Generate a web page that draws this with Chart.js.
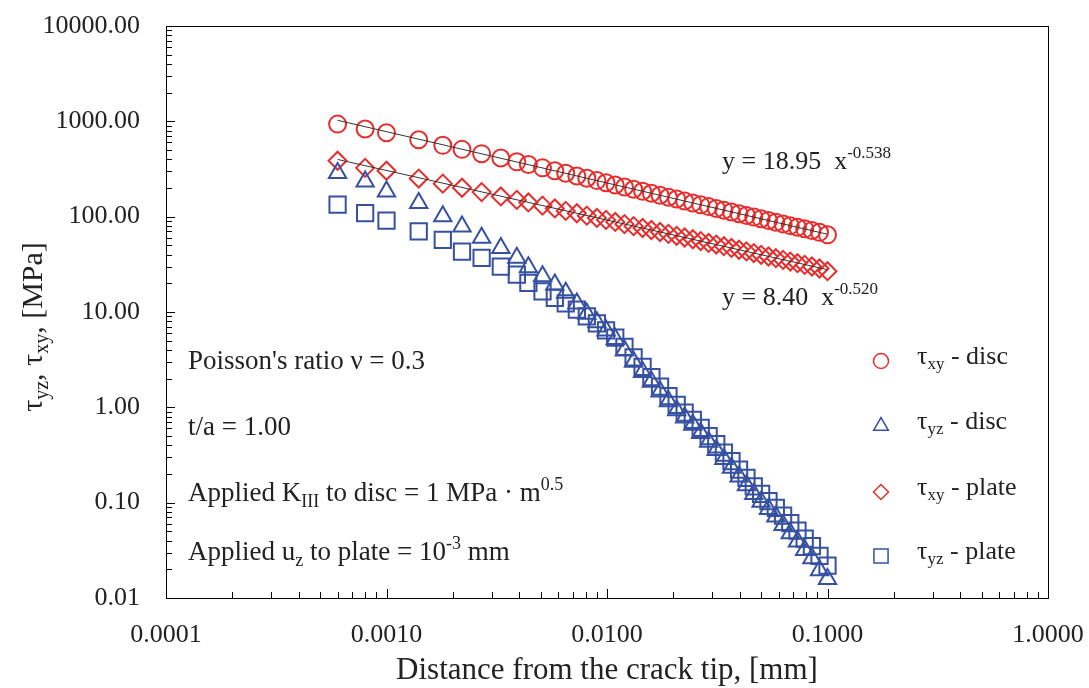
<!DOCTYPE html>
<html>
<head>
<meta charset="utf-8">
<script src="https://cdn.jsdelivr.net/npm/chart.js@4/dist/chart.umd.min.js"></script>
<style>
    html, body { margin: 0; padding: 0; background: #fff; }
</style>
</head>
<body>
<canvas id="grafico" width="1089" height="688"></canvas>
<script>
// distance from the crack tip [mm]
const distancias = [0.0006, 0.0008, 0.0010, 0.0014, 0.0018, 0.0022, 0.0027, 0.0033, 0.0039, 0.0044,
    0.0051, 0.0058, 0.0065, 0.0073, 0.0081, 0.0090, 0.0099, 0.0109, 0.0120, 0.0132,
    0.0145, 0.0159, 0.0174, 0.0190, 0.0207, 0.0225, 0.0245, 0.0266, 0.0289, 0.0313,
    0.0339, 0.0367, 0.0397, 0.0429, 0.0463, 0.0500, 0.0540, 0.0583, 0.0629, 0.0678,
    0.0731, 0.0788, 0.0850, 0.0920, 0.1000];

// stresses [MPa]
const txyDisc = [935, 830, 760, 640, 560, 508, 458, 412, 376, 352,
    325, 303, 285, 267, 253, 239, 227, 215, 205, 194,
    185, 176, 168, 160, 153, 146, 139, 133, 127.5, 122,
    117, 112, 107.5, 103, 99, 95, 91, 87.5, 84, 80.5,
    77.5, 74.5, 71.5, 68.5, 64.5];
const tyzDisc = [287, 234, 184, 139, 101, 79, 60, 47, 37, 29.5,
    23.7, 19.4, 15.9, 12.3, 9.6, 7.8, 6.4, 5.2, 3.95, 3.0,
    2.35, 1.86, 1.47, 1.16, 0.93, 0.78, 0.655, 0.537, 0.435, 0.356,
    0.287, 0.232, 0.188, 0.152, 0.123, 0.1025, 0.0857, 0.0716, 0.0583, 0.0478,
    0.0391, 0.0319, 0.0261, 0.0195, 0.0158];
const txyPlate = [386, 325, 303, 251, 222, 201, 181, 163, 150, 141,
    130.5, 122, 115, 108.5, 102.5, 97, 92.5, 88, 83.5, 79.5,
    76, 72.5, 69, 66, 63, 60.5, 58, 55.5, 53, 51,
    49, 47, 45, 43.2, 41.5, 39.8, 38.2, 36.7, 35.2, 33.8,
    32.5, 31.2, 30, 28.6, 26.8];
const tyzPlate = [134, 109, 91, 70, 57, 43, 37, 30, 24.7, 20.2,
    16.5, 14.1, 12.3, 10.6, 9.0, 7.6, 6.4, 5.4, 4.3, 3.35,
    2.65, 2.08, 1.65, 1.31, 1.06, 0.88, 0.74, 0.61, 0.50, 0.41,
    0.335, 0.272, 0.222, 0.182, 0.148, 0.124, 0.104, 0.088, 0.073, 0.061,
    0.051, 0.042, 0.035, 0.0277, 0.0218];

// power fits, end points of the trend lines
const ajusteX = [0.0006, 0.1];
const ajusteDisc = [1025, 65.4];   // y = 18.95 x^-0.538
const ajustePlate = [398, 27.8];   // y = 8.40 x^-0.520

const xTicks = [0.0001, 0.001, 0.01, 0.1, 1];
const yTicks = [0.01, 0.1, 1, 10, 100, 1000, 10000];

const ROJO = 'rgb(232, 46, 45)';
const AZUL = 'rgb(54, 80, 162)';
const FUENTE = "'Liberation Serif', 'Times New Roman', serif";
const TEXTO = '#222';

function toPoints(xs, ys) {
    return xs.map((x, i) => ({x: x, y: ys[i]}));
}

function markers(label, values, color, style, radius) {
    return {
        label: label,
        data: toPoints(distancias, values),
        showLine: false,
        pointStyle: style,
        pointRadius: radius,
        pointHoverRadius: radius,
        pointBorderWidth: 2,
        pointBorderColor: color,
        pointBackgroundColor: 'rgba(0,0,0,0)',
        order: 1
    }
}

function trend(values) {
    return {
        label: '',
        type: 'line',
        data: toPoints(ajusteX, values),
        borderColor: '#333',
        borderWidth: 1,
        pointRadius: 0,
        fill: false,
        order: 0
    }
}

// text with sub- and superscripts: parts = [[text, '' | 'sub' | 'sup'], ...]
function drawRich(ctx, x, y, parts, size, align) {
    const fontOf = m => (m ? Math.round(size * 0.66) : size) + 'px ' + FUENTE;
    const widths = parts.map(([t, m]) => {
        ctx.font = fontOf(m);
        return ctx.measureText(t).width;
    });
    const total = widths.reduce((a, b) => a + b, 0);
    let cx = align === 'center' ? x - total / 2 : x;
    ctx.textAlign = 'left';
    ctx.textBaseline = 'middle';
    parts.forEach(([t, m], i) => {
        ctx.font = fontOf(m);
        let dy = 0;
        if (m === 'sub') dy = size * 0.3;
        if (m === 'sup') dy = -size * 0.32;
        ctx.fillText(t, cx, y + dy);
        cx += widths[i];
    });
}

const extras = {
    id: 'extras',
    afterDraw(chart) {
        const {ctx, chartArea: a, scales: {x, y}} = chart;
        ctx.save();

        // frame + inward ticks
        ctx.strokeStyle = '#000';
        ctx.lineWidth = 1;
        ctx.strokeRect(a.left + 0.5, a.top + 0.5, a.right - a.left, a.bottom - a.top);
        ctx.beginPath();
        xTicks.slice(0, -1).forEach(d => {
            for (let m = 1; m <= 10; m++) {
                const px = Math.round(x.getPixelForValue(d * m)) + 0.5;
                const len = (m === 1 || m === 10) ? 9 : 6;
                ctx.moveTo(px, a.bottom);
                ctx.lineTo(px, a.bottom - len);
            }
        });
        yTicks.slice(0, -1).forEach(d => {
            for (let m = 1; m <= 10; m++) {
                const py = Math.round(y.getPixelForValue(d * m)) + 0.5;
                const len = (m === 1 || m === 10) ? 9 : 6;
                ctx.moveTo(a.left, py);
                ctx.lineTo(a.left + len, py);
            }
        });
        ctx.stroke();

        ctx.fillStyle = TEXTO;

        // y axis title
        ctx.save();
        ctx.translate(34, 327);
        ctx.rotate(-Math.PI / 2);
        drawRich(ctx, 0, 0, [['τ', ''], ['yz', 'sub'], [', ', ''], ['τ', ''], ['xy', 'sub'], [', [MPa]', '']], 30, 'center');
        ctx.restore();

        // fit equations
        drawRich(ctx, 722, 162, [['y = 18.95  x', ''], ['-0.538', 'sup']], 26);
        drawRich(ctx, 722, 298, [['y = 8.40  x', ''], ['-0.520', 'sup']], 26);

        // notes
        drawRich(ctx, 188, 362, [["Poisson's ratio ν = 0.3", '']], 27);
        drawRich(ctx, 188, 428, [['t/a = 1.00', '']], 27);
        drawRich(ctx, 188, 494, [['Applied K', ''], ['III', 'sub'], [' to disc = 1 MPa · m', ''], ['0.5', 'sup']], 27);
        drawRich(ctx, 188, 553, [['Applied u', ''], ['z', 'sub'], [' to plate = 10', ''], ['-3', 'sup'], [' mm', '']], 27);

        // legend
        const items = [
            {style: 'circle', color: ROJO, r: 7.5, sub: 'xy', tail: ' - disc', y: 357},
            {style: 'triangle', color: AZUL, r: 8.5, sub: 'yz', tail: ' - disc', y: 422},
            {style: 'rectRot', color: ROJO, r: 7.5, sub: 'xy', tail: ' - plate', y: 488},
            {style: 'rect', color: AZUL, r: 10, sub: 'yz', tail: ' - plate', y: 552}
        ];
        items.forEach(it => {
            ctx.strokeStyle = it.color;
            ctx.fillStyle = 'rgba(0,0,0,0)';
            ctx.lineWidth = 1.5;
            Chart.helpers.drawPoint(ctx, {pointStyle: it.style, radius: it.r, borderWidth: 1.5}, 881, it.y + 4);
            ctx.fillStyle = TEXTO;
            drawRich(ctx, 917, it.y, [['τ', ''], [it.sub, 'sub'], [it.tail, '']], 26);
        });

        ctx.restore();
    }
};

new Chart(document.getElementById('grafico').getContext('2d'), {
    type: 'scatter',
    data: {
        datasets: [
            trend(ajusteDisc),
            trend(ajustePlate),
            markers('τxy - disc', txyDisc, ROJO, 'circle', 8.5),
            markers('τyz - disc', tyzDisc, AZUL, 'triangle', 10),
            markers('τxy - plate', txyPlate, ROJO, 'rectRot', 9),
            markers('τyz - plate', tyzPlate, AZUL, 'rect', 11.5)
        ]
    },
    options: {
        responsive: false,
        animation: false,
        devicePixelRatio: 1,
        layout: {padding: {top: 26, right: 41, left: 0, bottom: 0}},
        plugins: {
            legend: {display: false},
            tooltip: {enabled: false}
        },
        scales: {
            x: {
                type: 'logarithmic',
                min: 0.0001,
                max: 1,
                afterBuildTicks: s => { s.ticks = xTicks.map(v => ({value: v})); },
                afterFit: s => {
                    s.height = 90;
                    s.paddingLeft = 0;
                    s.paddingRight = 0;
                },
                ticks: {
                    callback: v => Number(v).toFixed(4),
                    font: {family: FUENTE, size: 26},
                    color: TEXTO,
                    padding: 22,
                    maxRotation: 0,
                    autoSkip: false
                },
                grid: {display: false, drawTicks: false},
                border: {display: false},
                title: {
                    display: true,
                    text: 'Distance from the crack tip, [mm]',
                    font: {family: FUENTE, size: 31, lineHeight: 1},
                    color: TEXTO,
                    padding: {top: 0, bottom: 2}
                }
            },
            y: {
                type: 'logarithmic',
                min: 0.01,
                max: 10000,
                afterBuildTicks: s => { s.ticks = yTicks.map(v => ({value: v})); },
                afterFit: s => {
                    s.width = 166;
                    s.paddingTop = 0;
                    s.paddingBottom = 0;
                },
                ticks: {
                    callback: v => Number(v).toFixed(2),
                    font: {family: FUENTE, size: 26},
                    color: TEXTO,
                    padding: 26,
                    autoSkip: false
                },
                grid: {display: false, drawTicks: false},
                border: {display: false}
            }
        }
    },
    plugins: [extras]
});
</script>
</body>
</html>
